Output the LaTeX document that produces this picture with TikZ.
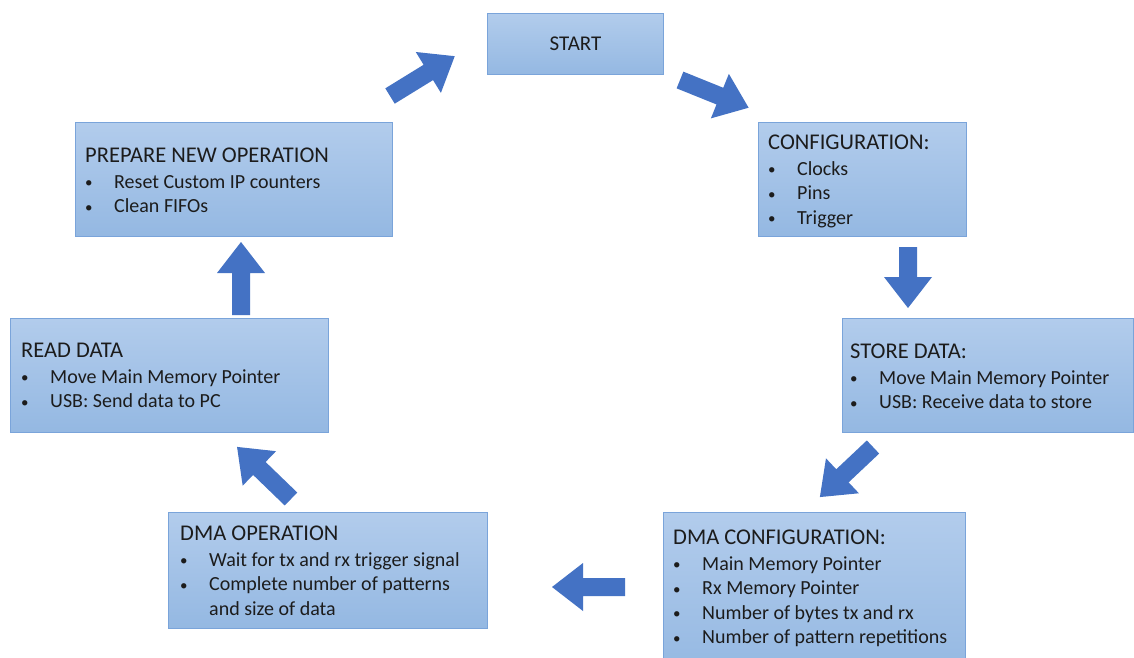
\documentclass[tikz,border=0pt]{standalone}
\usepackage{fontspec}
\setmainfont{Carlito}
\definecolor{boxtop}{RGB}{178,204,236}
\definecolor{boxbot}{RGB}{148,184,226}
\definecolor{boxline}{RGB}{122,164,218}
\definecolor{arrowblue}{RGB}{68,114,196}
\definecolor{ink}{RGB}{28,28,28}
\newcommand\bul{\makebox[29pt][l]{\raisebox{0.5pt}{\fontsize{15}{15}\selectfont\textbullet}}}
\newcommand\ttl[1]{{\fontsize{22.5}{24.5}\selectfont #1}}
% block arrow: tail centre x, tail centre y, direction (deg), length
\newcommand\blockarrow[4]{%
  \fill[arrowshape, shift={(#1,#2)}, rotate=#3]
    (0,-9) -- ({#4-31},-9) -- ({#4-31},-24) -- (#4,0) --
    ({#4-31},24) -- ({#4-31},9) -- (0,9) -- cycle;}
\begin{document}
\begin{tikzpicture}[x=1pt,y=-1pt,
  box/.style={draw=boxline, line width=1pt, top color=boxtop, bottom color=boxbot,
    anchor=north west, inner sep=0pt},
  txt/.style={anchor=north west, inner sep=0pt, align=left, text=ink,
    font=\fontsize{20}{24.5}\selectfont},
  arrowshape/.style={fill=arrowblue}]
\useasboundingbox (0,0) rectangle (1134,657);
\fill[white] (0,0) rectangle (1134,657);

% process boxes
\node[box, minimum width=176pt, minimum height=61pt] (start) at (487,13) {};
\node[box, minimum width=208pt, minimum height=114pt] (cfg) at (758,122) {};
\node[box, minimum width=291pt, minimum height=114pt] (store) at (842,318) {};
\node[box, minimum width=302pt, minimum height=165pt] (dmacfg) at (663,512) {};
\node[box, minimum width=319pt, minimum height=116pt] (dmaop) at (168,512) {};
\node[box, minimum width=318pt, minimum height=114pt] (read) at (10,318) {};
\node[box, minimum width=317pt, minimum height=114pt] (prep) at (75,122) {};

% box texts
\node[text=ink, font=\fontsize{21}{24}\selectfont] (startt) at (start.center) {START};
\node[txt] (cfgt) at (768,134.5) {\ttl{CONFIGURATION:}\\[1.5pt]
  \bul Clocks\\ \bul Pins\\ \bul Trigger};
\node[txt] (storet) at (850,343.5) {\ttl{STORE DATA:}\\[1.5pt]
  \bul Move Main Memory Pointer\\ \bul USB: Receive data to store};
\node[txt] (dmacfgt) at (673,529.5) {\ttl{DMA CONFIGURATION:}\\[1.5pt]
  \bul Main Memory Pointer\\ \bul Rx Memory Pointer\\
  \bul Number of bytes tx and rx\\ \bul Number of pattern repetitions};
\node[txt] (dmaopt) at (180,525.5) {\ttl{DMA OPERATION}\\[1.5pt]
  \bul Wait for tx and rx trigger signal\\ \bul Complete number of patterns\\
  \hspace*{29pt}and size of data};
\node[txt] (readt) at (21,342.5) {\ttl{READ DATA}\\[1.5pt]
  \bul Move Main Memory Pointer\\ \bul USB: Send data to PC};
\node[txt] (prept) at (85,147.5) {\ttl{PREPARE NEW OPERATION}\\[1.5pt]
  \bul Reset Custom IP counters\\ \bul Clean FIFOs};

% flow arrows
\blockarrow{390}{96}{31.6}{76}
\blockarrow{680}{80}{-22}{74}
\blockarrow{908}{247}{-90}{61}
\blockarrow{873}{447}{223.3}{73}
\blockarrow{625}{587}{180}{73}
\blockarrow{291}{499}{136}{75}
\blockarrow{241}{315}{90}{73}
\end{tikzpicture}
\end{document}
